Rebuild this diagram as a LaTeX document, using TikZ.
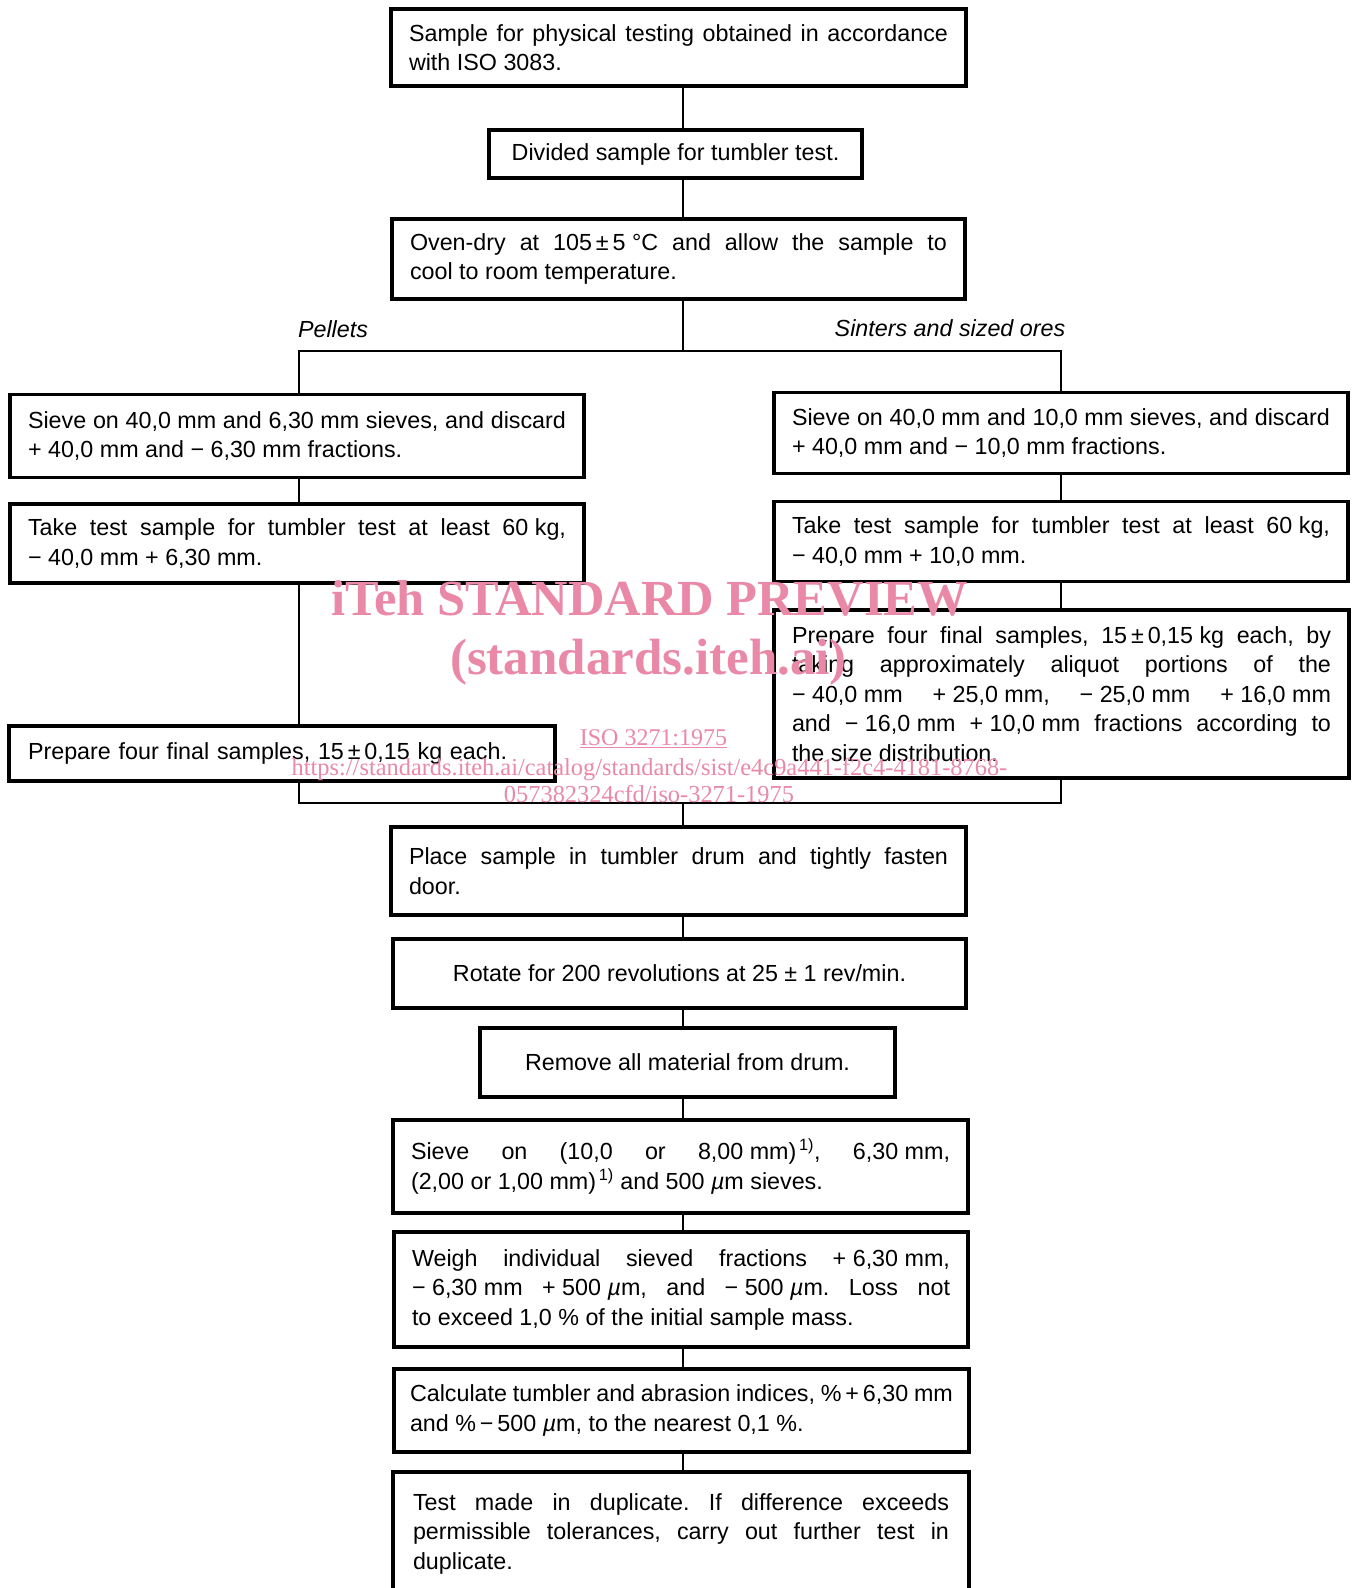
\documentclass[tikz,border=0pt]{standalone}
\usepackage{fontspec}
\setmainfont{Liberation Sans}
\newfontfamily\wmfont{Liberation Serif}
\definecolor{wm}{RGB}{234,137,167}
\tolerance=10000
\hyphenpenalty=10000
\exhyphenpenalty=10000
\frenchspacing
\newcommand{\mtxt}{\fontsize{23.3}{29.5}\selectfont}
\newcommand{\um}{\textit{µ}m}
\newcommand{\q}[1]{\mbox{#1}}
\begin{document}
\begin{tikzpicture}[x=1pt,y=-1pt,
  box/.style={draw, line width=3.4pt, inner xsep=18pt, inner ysep=0pt, font=\mtxt, align=justify},
  cbox/.style={draw, line width=3.4pt, inner xsep=18pt, inner ysep=0pt, font=\mtxt, align=center},
  conn/.style={line width=2pt},
  lbl/.style={font=\mtxt\itshape, inner sep=0pt},
  wmk/.style={text=wm, inner sep=0pt, anchor=base}
]
\useasboundingbox (0,0) rectangle (1352,1588);
\clip (0,0) rectangle (1352,1588);

% main column
\node[box, minimum width=575, minimum height=77, text width=539] (b1) at (678.5,47.5)
  {Sample for physical testing obtained in accordance \linebreak with ISO 3083.};
\node[cbox, minimum width=373, minimum height=48] (b2) at (675.5,154)
  {Divided sample for tumbler test.};
\node[box, minimum width=573, minimum height=80, text width=537] (b3) at (678.5,259)
  {Oven-dry at \q{105\,±\,5 °C} and allow the sample to \linebreak cool to room temperature.};

\node[lbl] (pel) at (333,329) {Pellets};
\node[lbl] (sin) at (950,328) {Sinters and sized ores};

% left branch
\node[box, minimum width=574, minimum height=83, text width=538] (l1) at (297,436)
  {Sieve on \q{40,0 mm} and \q{6,30 mm} sieves, and discard \linebreak \q{+ 40,0 mm} and \q{− 6,30 mm} fractions.};
\node[box, minimum width=574, minimum height=79, text width=538] (l2) at (297,543.5)
  {Take test sample for tumbler test at least \q{60 kg}, \linebreak \q{− 40,0 mm} \q{+ 6,30 mm}.};
\node[box, minimum width=546, minimum height=55, text width=508, align=left] (l3) at (282,753.5)
  {Prepare four final samples, 15\,±\,0,15 kg each.};

% right branch
\node[box, minimum width=574, minimum height=81, text width=538] (r1) at (1061,433)
  {Sieve on \q{40,0 mm} and \q{10,0 mm} sieves, and discard \linebreak \q{+ 40,0 mm} and \q{− 10,0 mm} fractions.};
\node[box, minimum width=574, minimum height=80, text width=538] (r2) at (1061,541.5)
  {Take test sample for tumbler test at least \q{60 kg}, \linebreak \q{− 40,0 mm} \q{+ 10,0 mm}.};
\node[box, minimum width=575, minimum height=168, text width=539] (r3) at (1061.5,694)
  {Prepare four final samples, \q{15\,±\,0,15 kg} each, by \linebreak taking approximately aliquot portions of the \linebreak \q{− 40,0 mm} \q{+ 25,0 mm}, \q{− 25,0 mm} \q{+ 16,0 mm} \linebreak and \q{− 16,0 mm} \q{+ 10,0 mm} fractions according to \linebreak the size distribution.};

% lower column
\node[box, minimum width=575, minimum height=88, text width=539] (c1) at (678.5,871)
  {Place sample in tumbler drum and tightly fasten \linebreak door.};
\node[cbox, minimum width=573, minimum height=69] (c2) at (679.5,973.5)
  {Rotate for 200 revolutions at 25 ± 1 rev/min.};
\node[cbox, minimum width=415, minimum height=69] (c3) at (687.5,1062.5)
  {Remove all material from drum.};
\node[box, minimum width=575, minimum height=93, text width=539] (c4) at (680.5,1166.5)
  {Sieve on (10,0 or \q{8,00 mm)\textsuperscript{\,1)}}, \q{6,30 mm}, \linebreak (2,00 or 1,00 mm)\textsuperscript{\,1)} and 500 \um{} sieves.};
\node[box, minimum width=574, minimum height=115, text width=538] (c5) at (681,1289.5)
  {Weigh individual sieved fractions \q{+ 6,30 mm}, \linebreak \q{− 6,30 mm} \q{+ 500 \um}, and \q{− 500 \um}. Loss not \linebreak to exceed 1,0 \% of the initial sample mass.};
\node[box, minimum width=575, minimum height=83, text width=543, inner xsep=16pt] (c6) at (681.5,1410.5)
  {Calculate tumbler and abrasion indices, \%\,+\,6,30 mm \linebreak and \%\,−\,500 \um, to the nearest 0,1 \%.};
\node[box, minimum width=576, minimum height=123, text width=536, inner xsep=20pt] (c7) at (681,1533.5)
  {Test made in duplicate. If difference exceeds \linebreak permissible tolerances, carry out further test in \linebreak duplicate.};

% connector coordinates
\coordinate (sp) at (683,0);
\coordinate (sc) at (683,351);
\coordinate (sl) at (299,351);
\coordinate (sr) at (1061,351);
\coordinate (ml) at (299,803);
\coordinate (mr) at (1061,803);
\coordinate (mc) at (683,803);

\draw[conn] (b1.south -| sp) -- (b2.north -| sp);
\draw[conn] (b2.south -| sp) -- (b3.north -| sp);
\draw[conn] (b3.south -| sp) -- (sc);
\draw[conn] (l1.north -| sl) -- (sl) -- (sr) -- (r1.north -| sr);
\draw[conn] (l1.south -| sl) -- (l2.north -| sl);
\draw[conn] (l2.south -| sl) -- (l3.north -| sl);
\draw[conn] (l3.south -| sl) -- (ml) -- (mr) -- (r3.south -| sr);
\draw[conn] (r1.south -| sr) -- (r2.north -| sr);
\draw[conn] (r2.south -| sr) -- (r3.north -| sr);
\draw[conn] (mc) -- (c1.north -| sp);
\foreach \a/\b in {c1/c2,c2/c3,c3/c4,c4/c5,c5/c6,c6/c7}
  \draw[conn] (\a.south -| sp) -- (\b.north -| sp);

% watermark
\node[wmk, font=\wmfont\bfseries\fontsize{50.5}{52}\selectfont] (w1) at (649.5,615) {iTeh STANDARD PREVIEW};
\node[wmk, font=\wmfont\bfseries\fontsize{51}{52}\selectfont] (w2) at (648.5,674) {(standards.iteh.ai)};
\node[wmk, font=\wmfont\fontsize{24}{26}\selectfont] (w3) at (653.5,745) {\underline{ISO 3271:1975}};
\node[wmk, font=\wmfont\fontsize{24.4}{26}\selectfont] (w4) at (649.5,775) {https://standards.iteh.ai/catalog/standards/sist/e4c9a441-f2c4-4181-8768-};
\node[wmk, font=\wmfont\fontsize{24.4}{26}\selectfont] (w5) at (649,802) {057382324cfd/iso-3271-1975};
\end{tikzpicture}
\end{document}
